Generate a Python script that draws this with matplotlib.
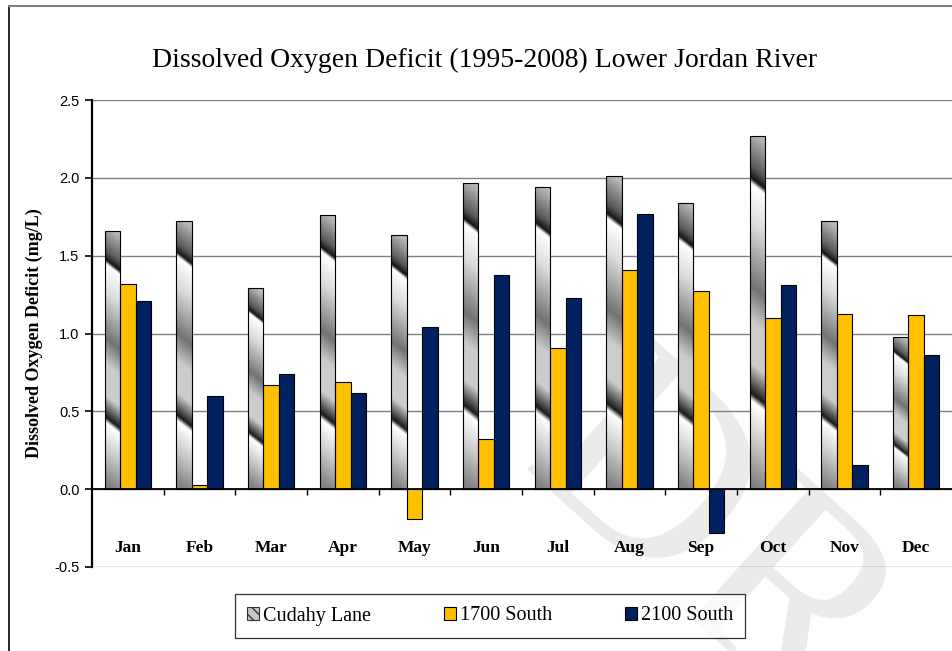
import numpy as np
import matplotlib
matplotlib.use("Agg")
import matplotlib.pyplot as plt
from matplotlib.patches import Rectangle, Patch
from matplotlib.lines import Line2D

months = ['Jan', 'Feb', 'Mar', 'Apr', 'May', 'Jun', 'Jul', 'Aug', 'Sep', 'Oct', 'Nov', 'Dec']
cudahy = [1.66, 1.72, 1.29, 1.76, 1.63, 1.97, 1.94, 2.01, 1.84, 2.27, 1.72, 0.98]
s1700 = [1.32, 0.025, 0.67, 0.69, -0.19, 0.32, 0.91, 1.41, 1.27, 1.10, 1.125, 1.12]
s2100 = [1.21, 0.60, 0.74, 0.62, 1.04, 1.375, 1.23, 1.77, -0.28, 1.31, 0.155, 0.86]
yticks = [-0.5, 0.0, 0.5, 1.0, 1.5, 2.0, 2.5]

serif = ['Liberation Serif', 'DejaVu Serif']
sans = ['Liberation Sans', 'DejaVu Sans']

fig = plt.figure(figsize=(9.52, 6.51), dpi=100)
ax = fig.add_axes([92 / 952, 1 - 567 / 651, 1 - 92 / 952, 467 / 651])
ax.set_facecolor('none')

# faint watermark behind the chart
fig.text(0.68, 0.50, 'DRAFT', fontsize=200, family=serif, color='#ebebeb',
         rotation=-42, ha='left', va='top', zorder=-5, rotation_mode='anchor')

x = np.arange(len(months))
w = 0.216

# chrome-like gradient for the Cudahy Lane bars
stops_t = [0.0, 0.10, 0.135, 0.15, 0.26, 0.44, 0.54, 0.66, 0.745, 0.765, 0.87, 1.0]
stops_g = [0.72, 0.35, 0.08, 1.0, 0.86, 0.45, 0.80, 0.80, 0.10, 1.0, 0.80, 0.50]
px_per_unit = 155.6
for xi, v in zip(x, cudahy):
    x0 = xi - w * 1.5
    rect = Rectangle((x0, 0), w, v, facecolor='none', edgecolor='black', lw=0.8, zorder=4)
    ax.add_patch(rect)
    H, W = 300, 24
    uu, vv = np.meshgrid(np.linspace(0, 1, W), np.linspace(0, 1, H))
    k = 12 / (v * px_per_unit)
    t = np.clip(vv - k * (uu - 0.5), 0, 1)
    img = np.interp(t, stops_t, stops_g)
    im = ax.imshow(img, cmap='gray', vmin=0, vmax=1, extent=(x0, x0 + w, 0, v),
                   origin='upper', aspect='auto', interpolation='bilinear', zorder=3)
    im.set_clip_path(rect)

ax.bar(x, s1700, w, color='#FFC000', edgecolor='black', lw=0.8, zorder=3)
ax.bar(x + w, s2100, w, color='#002060', edgecolor='black', lw=0.8, zorder=3)

ax.set_xlim(-0.5, 11.5)
ax.set_ylim(-0.5, 2.5)
ax.set_yticks(yticks)
ax.set_yticklabels([f'{t:.1f}' for t in yticks], family=sans, fontsize=10.5)
ax.yaxis.grid(True, color='#808080', lw=1.0, zorder=0)
ax.set_axisbelow(True)

ax.spines['top'].set_visible(False)
ax.spines['right'].set_visible(False)
ax.spines['left'].set_linewidth(1.6)
ax.spines['bottom'].set_position(('data', 0))
ax.spines['bottom'].set_linewidth(1.3)
ax.spines['bottom'].set_zorder(5)
ax.tick_params(axis='y', direction='out', length=5, width=1.2, pad=4)
ax.set_xticks(np.arange(0.5, 11, 1))
ax.set_xticklabels([])
ax.tick_params(axis='x', direction='out', length=4, width=1.0)

for xi, m in zip(x, months):
    ax.text(xi, -0.38, m, ha='center', va='center', family=serif,
            fontweight='bold', fontsize=12.5)

ax.set_ylabel('Dissolved Oxygen Deficit (mg/L)', family=serif, fontweight='bold',
              fontsize=13, labelpad=8)

fig.text(485 / 952, 1 - 60 / 651, 'Dissolved Oxygen Deficit (1995-2008) Lower Jordan River',
         family=serif, fontsize=20, ha='center', va='center')

# outer chart border
fig.add_artist(Line2D([9 / 952, 9 / 952], [0, 1 - 6 / 651], color='black', lw=1.2))
fig.add_artist(Line2D([9 / 952, 1], [1 - 6 / 651, 1 - 6 / 651], color='#808080', lw=1.5))

handles = [Patch(facecolor='#c8c8c8', edgecolor='#333333', hatch='\\\\\\', lw=0.8),
           Patch(facecolor='#FFC000', edgecolor='black', lw=0.8),
           Patch(facecolor='#002060', edgecolor='black', lw=0.8)]
leg = fig.legend(handles, ['Cudahy Lane', '1700 South', '2100 South'], ncol=3,
                 loc='center', bbox_to_anchor=(490 / 952, 1 - 616 / 651),
                 prop={'family': serif, 'size': 14.5}, frameon=True, fancybox=False,
                 edgecolor='black', handlelength=0.6, handleheight=0.6,
                 handletextpad=0.2, columnspacing=3.6, borderpad=0.6,
                 borderaxespad=0)
leg.get_frame().set_linewidth(0.9)
leg.get_frame().set_boxstyle('square', pad=0.0)

fig.savefig('out.png', dpi=100)
